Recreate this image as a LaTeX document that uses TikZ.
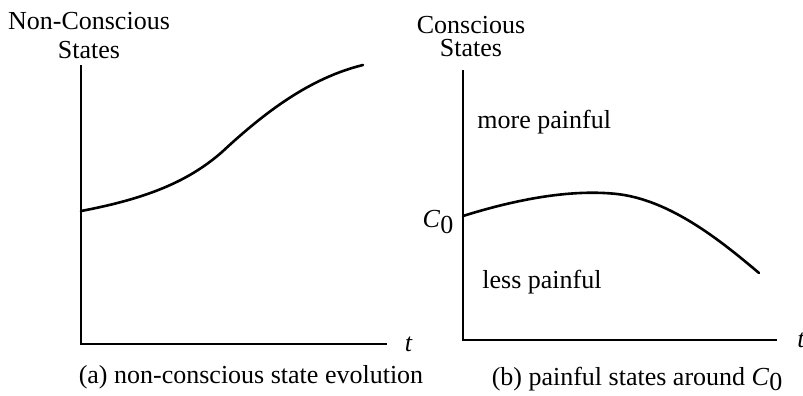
\documentclass[tikz,border=0pt]{standalone}
\usepackage{fontspec}
\setmainfont{Liberation Serif}
\usetikzlibrary{positioning,calc}
\newcommand{\Cnought}{\textit{C}\raisebox{-0.45ex}{0}}

\begin{document}
\begin{tikzpicture}[x=0.5pt,y=-0.5pt,
  lbl/.style={font=\fontsize{13}{14.5}\selectfont,inner sep=0pt},
  axis/.style={line width=1.3pt,line join=miter},
  curve/.style={line width=1.3pt,line cap=round}]
\useasboundingbox (0,0) rectangle (803,396);
\coordinate (topA) at (81,65);
\coordinate (origA) at (81,344);
\coordinate (endA) at (387,344);
\coordinate (topB) at (463,70);
\coordinate (origB) at (463,340);
\coordinate (endB) at (777,340);
\foreach \p in {A,B}{
  \draw[axis] (top\p)--(orig\p)--(end\p);
}
\node[lbl,align=center] (ylabA) at (89,36) {Non-Conscious\\States};
\node[lbl,align=center,font=\fontsize{13}{11.5}\selectfont] (ylabB) at (471,37) {Conscious\\States};
\node[lbl,right=8.7pt of endA] (tA) {\textit{t}};
\node[lbl,right=10pt of endB] (tB) {\textit{t}};
\node[lbl] (cnought) at (438,222) {\Cnought};
\node[lbl,anchor=west] (more) at (477,122) {more painful};
\node[lbl,anchor=west] (less) at (482,282) {less painful};
\node[lbl] (capA) at (251,377) {(a) non-conscious state evolution};
\node[lbl] (capB) at (637,379) {(b) painful states around \Cnought};
\coordinate (startA) at (81,211);
\coordinate (bendA) at (222,152);
\coordinate (stopA) at (363,65);
\coordinate (startB) at (463,216);
\coordinate (peakB) at (617,194);
\coordinate (stopB) at (759,273);
\draw[curve] (startA) .. controls (150,198) and (190,180) .. (bendA)
  .. controls (265,112) and (310,78) .. (stopA);
\draw[curve] (startB) .. controls (530,195) and (580,190) .. (peakB)
  .. controls (670,200) and (720,240) .. (stopB);
\end{tikzpicture}
\end{document}
